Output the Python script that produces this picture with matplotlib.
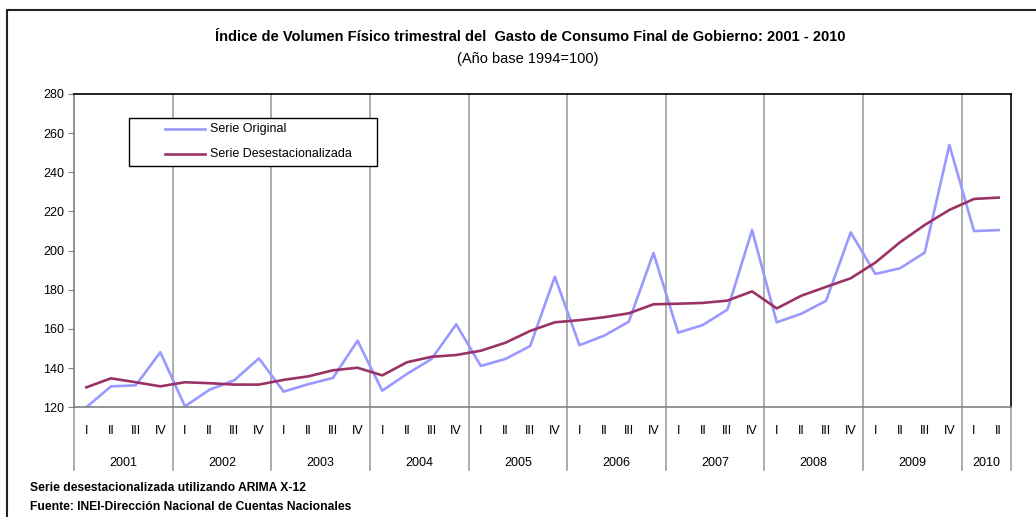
import matplotlib
matplotlib.use("Agg")
import matplotlib.pyplot as plt
import matplotlib.transforms as mtransforms
from matplotlib.patches import Rectangle
from matplotlib.lines import Line2D

plt.rcParams['font.family'] = ['Liberation Sans', 'DejaVu Sans']

# data (2001-I .. 2010-II)
years = ["2001", "2002", "2003", "2004", "2005", "2006", "2007", "2008", "2009", "2010"]
quarters_per_year = [4, 4, 4, 4, 4, 4, 4, 4, 4, 2]
quarter_names = ["I", "II", "III", "IV"]

serie_original = [
    120.0, 130.7, 131.2, 148.1,
    120.5, 129.0, 133.8, 145.0,
    128.0, 131.8, 135.0, 154.0,
    128.5, 137.0, 144.7, 162.4,
    141.1, 144.7, 151.3, 186.7,
    151.7, 156.6, 163.7, 198.8,
    158.1, 162.0, 169.9, 210.5,
    163.4, 167.8, 174.4, 209.3,
    188.1, 191.0, 199.0, 254.0,
    210.0, 210.5,
]
serie_desest = [
    130.2, 134.8, 132.8, 130.7,
    132.8, 132.3, 131.6, 131.6,
    134.0, 135.8, 138.9, 140.2,
    136.3, 143.0, 145.8, 146.7,
    148.9, 153.0, 159.0, 163.4,
    164.5, 166.0, 168.0, 172.6,
    172.9, 173.3, 174.5, 179.2,
    170.5, 177.0, 181.5, 185.9,
    193.9, 204.3, 213.1, 220.8,
    226.4, 227.1,
]

BLUE = '#9999ff'
RED = '#993366'

n = len(serie_original)
x = list(range(n))
q_labels = [quarter_names[i % 4] for i in range(n)]

W, H = 1036, 517
fig = plt.figure(figsize=(W / 100, H / 100), dpi=100)
ax = fig.add_axes([74 / W, 1 - 407.3 / H, (1011 - 74) / W, (407.3 - 94) / H])

# outer frame of the chart object
fig.patches.append(Rectangle((7 / W, -0.1), 1.2, 1 - 10 / H + 0.1,
                             transform=fig.transFigure, fill=False,
                             edgecolor='#222222', linewidth=1.5, clip_on=False))

ax.plot(x, serie_original, color=BLUE, lw=1.9)
ax.plot(x, serie_desest, color=RED, lw=1.9)

ax.set_xlim(-0.5, n - 0.5)
ax.set_ylim(120, 280)
ax.set_yticks(range(120, 281, 20))
ax.tick_params(axis='y', length=4, color='#808080', labelsize=9, pad=3)
ax.set_xticks(x)
ax.set_xticklabels(q_labels)
ax.tick_params(axis='x', length=0, labelsize=9, pad=13)

for s in ['top', 'right']:
    ax.spines[s].set_color('black')
    ax.spines[s].set_linewidth(1.2)
for s in ['left', 'bottom']:
    ax.spines[s].set_color('#808080')
    ax.spines[s].set_linewidth(1.2)

# year boundaries and year labels
trans = mtransforms.blended_transform_factory(ax.transData, ax.transAxes)
start = 0
bounds = [-0.5]
for yr, nq in zip(years, quarters_per_year):
    end = start + nq
    ax.text((start + end - 1) / 2, -0.178, yr, transform=trans,
            ha='center', va='center', fontsize=9)
    bounds.append(end - 0.5)
    start = end
for b in bounds:
    ax.plot([b, b], [-0.2, 0 if b in (bounds[0], bounds[-1]) else 1], transform=trans,
            color='#a0a0a0', lw=1.2, clip_on=False, zorder=0.5)

# legend box drawn like the Excel one
fig.patches.append(Rectangle((129 / W, 1 - 166 / H), (377 - 129) / W, (166 - 118) / H,
                             transform=fig.transFigure, facecolor='white',
                             edgecolor='black', linewidth=1.0, zorder=5))
for yy, col, lab in [(129, BLUE, 'Serie Original'), (154, RED, 'Serie Desestacionalizada')]:
    fig.lines.append(Line2D([165 / W, 205 / W], [1 - yy / H, 1 - yy / H],
                            transform=fig.transFigure, color=col, lw=1.9, zorder=6))
    fig.text(210 / W, 1 - yy / H, lab, ha='left', va='center', fontsize=9, zorder=6)

fig.text(530 / W, 1 - 37 / H,
         'Índice de Volumen Físico trimestral del  Gasto de Consumo Final de Gobierno: 2001 - 2010',
         ha='center', va='center', fontsize=10.5, fontweight='bold')
fig.text(528 / W, 1 - 59 / H, '(Año base 1994=100)', ha='center', va='center', fontsize=10.5)

fig.text(30 / W, 1 - 488 / H, 'Serie desestacionalizada utilizando ARIMA X-12',
         ha='left', va='center', fontsize=8.7, fontweight='bold')
fig.text(30 / W, 1 - 507 / H, 'Fuente: INEI-Dirección Nacional de Cuentas Nacionales',
         ha='left', va='center', fontsize=8.7, fontweight='bold')

fig.savefig('out.png', dpi=100)
